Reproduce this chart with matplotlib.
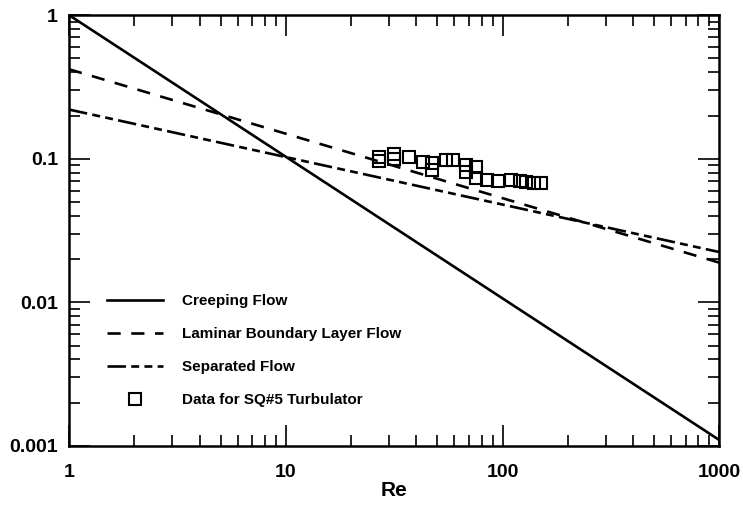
import numpy as np
import matplotlib
matplotlib.use('Agg')
import matplotlib.pyplot as plt
from matplotlib.ticker import LogLocator, FixedLocator, FixedFormatter, NullFormatter

plt.rcParams['font.family'] = ['Liberation Sans', 'DejaVu Sans']

# correlation curves, endpoints of straight lines in log-log
re_line = [1, 1000]
creeping = [1.0, 0.0011]
laminar = [0.42, 0.0189]
separated = [0.22, 0.0224]

# SQ#5 turbulator measurements
re_data = [26.8, 26.8, 31.5, 31.5, 37.2, 42.9, 47.5, 47.5, 54.6, 58.8,
           67.5, 68.0, 75.6, 75.6, 85.0, 95.5, 110, 120, 129, 139, 150]
f_data = [0.103, 0.097, 0.108, 0.100, 0.103, 0.095, 0.094, 0.084, 0.098, 0.098,
          0.091, 0.081, 0.087, 0.074, 0.071, 0.070, 0.071, 0.070, 0.069, 0.068, 0.068]

xticks = [1, 10, 100, 1000]
xticklabels = ['1', '10', '100', '1000']
yticks = [0.001, 0.01, 0.1, 1]
yticklabels = ['0.001', '0.01', '0.1', '1']

fig = plt.figure(figsize=(7.43, 5.05), dpi=100)
ax = fig.add_axes([0.093, 0.117, 0.875, 0.853])

ax.plot(re_line, creeping, color='black', lw=1.9, label='Creeping Flow')
ax.plot(re_line, laminar, color='black', lw=1.9, dashes=(5, 4),
        label='Laminar Boundary Layer Flow')
ax.plot(re_line, separated, color='black', lw=1.9, dashes=(7, 2, 3, 2, 3, 2),
        label='Separated Flow')
ax.plot(re_data, f_data, ls='none', marker='s', ms=8.5, mfc='none', mec='black',
        mew=1.5, label='Data for SQ#5 Turbulator')

ax.set_xscale('log'); ax.set_yscale('log')
ax.set_xlim(1, 1000); ax.set_ylim(0.001, 1)

ax.xaxis.set_major_locator(FixedLocator(xticks))
ax.xaxis.set_major_formatter(FixedFormatter(xticklabels))
ax.yaxis.set_major_locator(FixedLocator(yticks))
ax.yaxis.set_major_formatter(FixedFormatter(yticklabels))
for a in (ax.xaxis, ax.yaxis):
    a.set_minor_locator(LogLocator(base=10, subs=np.arange(2, 10)))
    a.set_minor_formatter(NullFormatter())

ax.tick_params(which='both', direction='in', top=True, right=True,
               labelsize=14, width=1.2)
ax.tick_params(axis='y', pad=8)
ax.tick_params(axis='x', pad=13)
ax.tick_params(which='major', length=15)
ax.tick_params(which='minor', length=8)
for lbl in ax.get_xticklabels() + ax.get_yticklabels():
    lbl.set_fontweight('bold')
for s in ax.spines.values():
    s.set_linewidth(1.8)

ax.set_xlabel('Re', fontsize=15, fontweight='bold', labelpad=0)

leg = ax.legend(loc='lower left', bbox_to_anchor=(0.037, 0.058), frameon=False,
                handlelength=3.7, handletextpad=1.2, labelspacing=1.25,
                prop={'size': 11, 'weight': 'bold'})

fig.savefig('out.png', dpi=100)
